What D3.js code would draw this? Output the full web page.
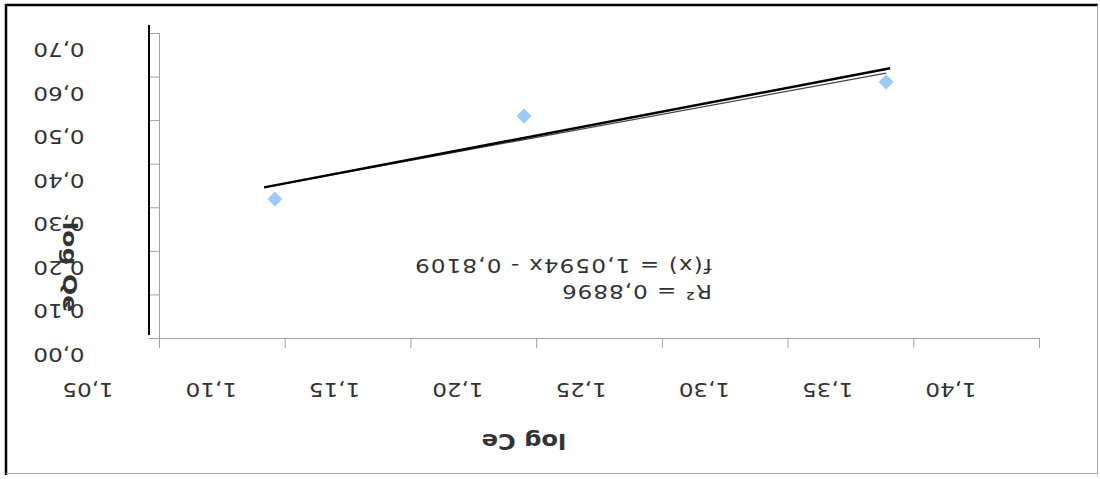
<!DOCTYPE html>
<html>
<head>
<meta charset="utf-8">
<script src="https://cdn.jsdelivr.net/npm/d3@7"></script>
<style>
  html, body { margin: 0; padding: 0; background: #fff; }
  svg { display: block; }
  text { font-family: "DejaVu Sans", sans-serif; fill: #333; white-space: pre; }
</style>
</head>
<body>
<svg id="chart" width="1100" height="479"></svg>
<script>
// Adsorption isotherm (Freundlich form): log Qe against log Ce
const logCe = [1.0961, 1.1952, 1.3392];
const logQe = [0.319, 0.5095, 0.5876];

// Trendline as reported: f(x) = 1,0594x - 0,8109
const slope = 1.0594;
const intercept = -0.8109;
const rSquared = 0.8896;
const fitRange = [1.0918, 1.3392];

// Heavier overlaid trend segment
const overlayX = [1.0918, 1.3408];
const overlayY = [0.3458, 0.619];

const xTicks = [1.05, 1.10, 1.15, 1.20, 1.25, 1.30, 1.35, 1.40];
const yTicks = [0.0, 0.1, 0.2, 0.3, 0.4, 0.5, 0.6, 0.7];

const xTitle = "log Ce";
const yTitle = "log Qe";
const eqLine = "f(x) = 1,0594x - 0,8109";
const r2Line = "R² = 0,8896";

const svg = d3.select("#chart");
const sx = 1.15;              // horizontal stretch applied to lettering
const fmt = v => d3.format(".2f")(v).replace(".", ",");

const x = d3.scaleLinear().domain([1.05, 1.40]).range([159, 1039]);
const y = d3.scaleLinear().domain([0, 0.7]).range([338, 33]);
// Tick labels sit on their own, slightly tighter run
const xLab = d3.scaleLinear().domain([1.05, 1.40]).range([88, 951]);

// Frame: dark top/left edges, light right/bottom edges
svg.append("line").attr("x1", 6).attr("y1", 5).attr("x2", 1098).attr("y2", 5)
  .attr("stroke", "#000").attr("stroke-width", 2.5);
svg.append("line").attr("x1", 6).attr("y1", 4).attr("x2", 6).attr("y2", 475)
  .attr("stroke", "#000").attr("stroke-width", 2.5);
svg.append("line").attr("x1", 1097.5).attr("y1", 5).attr("x2", 1097.5).attr("y2", 473.5)
  .attr("stroke", "#aaa").attr("stroke-width", 1);
svg.append("line").attr("x1", 6).attr("y1", 473.5).attr("x2", 1098).attr("y2", 473.5)
  .attr("stroke", "#aaa").attr("stroke-width", 1);

// Axes
const gx = svg.append("g").attr("transform", `translate(0,${y(0)})`)
  .call(d3.axisBottom(x).tickValues(xTicks).tickSize(10).tickFormat(""));
const gy = svg.append("g").attr("transform", `translate(${x(1.05)},0)`)
  .call(d3.axisLeft(y).tickValues(yTicks).tickSize(10).tickFormat(""));
[gx, gy].forEach(g => {
  g.selectAll("path.domain").attr("stroke", "#a0a0a0").attr("stroke-width", 1);
  g.selectAll(".tick line").attr("stroke", "#a0a0a0").attr("stroke-width", 1);
});

// Dark rule beside the value axis
svg.append("line")
  .attr("x1", x(1.05) - 10).attr("x2", x(1.05) - 10)
  .attr("y1", y(0.7) - 8).attr("y2", y(0) - 3)
  .attr("stroke", "#000").attr("stroke-width", 2);

// Lettering is turned half a revolution about its anchor
function turned(sel, px, py) {
  return sel.attr("transform", `translate(${px},${py}) rotate(180) scale(${sx},1)`);
}

// Category tick labels
xTicks.forEach(t => {
  turned(svg.append("text"), xLab(t), 390)
    .attr("text-anchor", "middle").attr("dominant-baseline", "central")
    .attr("font-size", 20).text(fmt(t));
});
// Value tick labels
yTicks.forEach(t => {
  turned(svg.append("text"), 59, y(t) + 17)
    .attr("text-anchor", "middle").attr("dominant-baseline", "central")
    .attr("font-size", 20).text(fmt(t));
});

// Axis titles
turned(svg.append("text"), 524, 441)
  .attr("text-anchor", "middle").attr("dominant-baseline", "central")
  .attr("font-size", 21).attr("font-weight", "bold").attr("fill", "#000")
  .text(xTitle);
svg.append("text")
  .attr("transform", `translate(70,267) rotate(90) scale(1.25,1)`)
  .attr("text-anchor", "middle").attr("dominant-baseline", "central")
  .attr("font-size", 20).attr("font-weight", "bold").attr("fill", "#000")
  .text(yTitle);

// Regression line from the stated equation
const line = d3.line().x(d => x(d[0])).y(d => y(d[1]));
svg.append("path")
  .datum(fitRange.map(v => [v, slope * v + intercept]))
  .attr("d", line).attr("fill", "none")
  .attr("stroke", "#444").attr("stroke-width", 1.3);

// Heavier trend segment
svg.append("path")
  .datum(overlayX.map((v, i) => [v, overlayY[i]]))
  .attr("d", line).attr("fill", "none")
  .attr("stroke", "#000").attr("stroke-width", 2.4);

// Observations as diamonds
svg.append("g").selectAll("path")
  .data(logCe.map((v, i) => [v, logQe[i]]))
  .join("path")
  .attr("d", d3.symbol(d3.symbolSquare, 112)())
  .attr("transform", d => `translate(${x(d[0])},${y(d[1])}) rotate(45)`)
  .attr("fill", "#99ccff");

// Equation and R² block
turned(svg.append("text"), 712, 265.5)
  .attr("text-anchor", "start").attr("dominant-baseline", "central")
  .attr("font-size", 20).attr("textLength", 297 / sx).attr("lengthAdjust", "spacing")
  .text(eqLine);
turned(svg.append("text"), 712, 292)
  .attr("text-anchor", "start").attr("dominant-baseline", "central")
  .attr("font-size", 20).attr("textLength", 150 / sx).attr("lengthAdjust", "spacing")
  .text(r2Line);
</script>
</body>
</html>
